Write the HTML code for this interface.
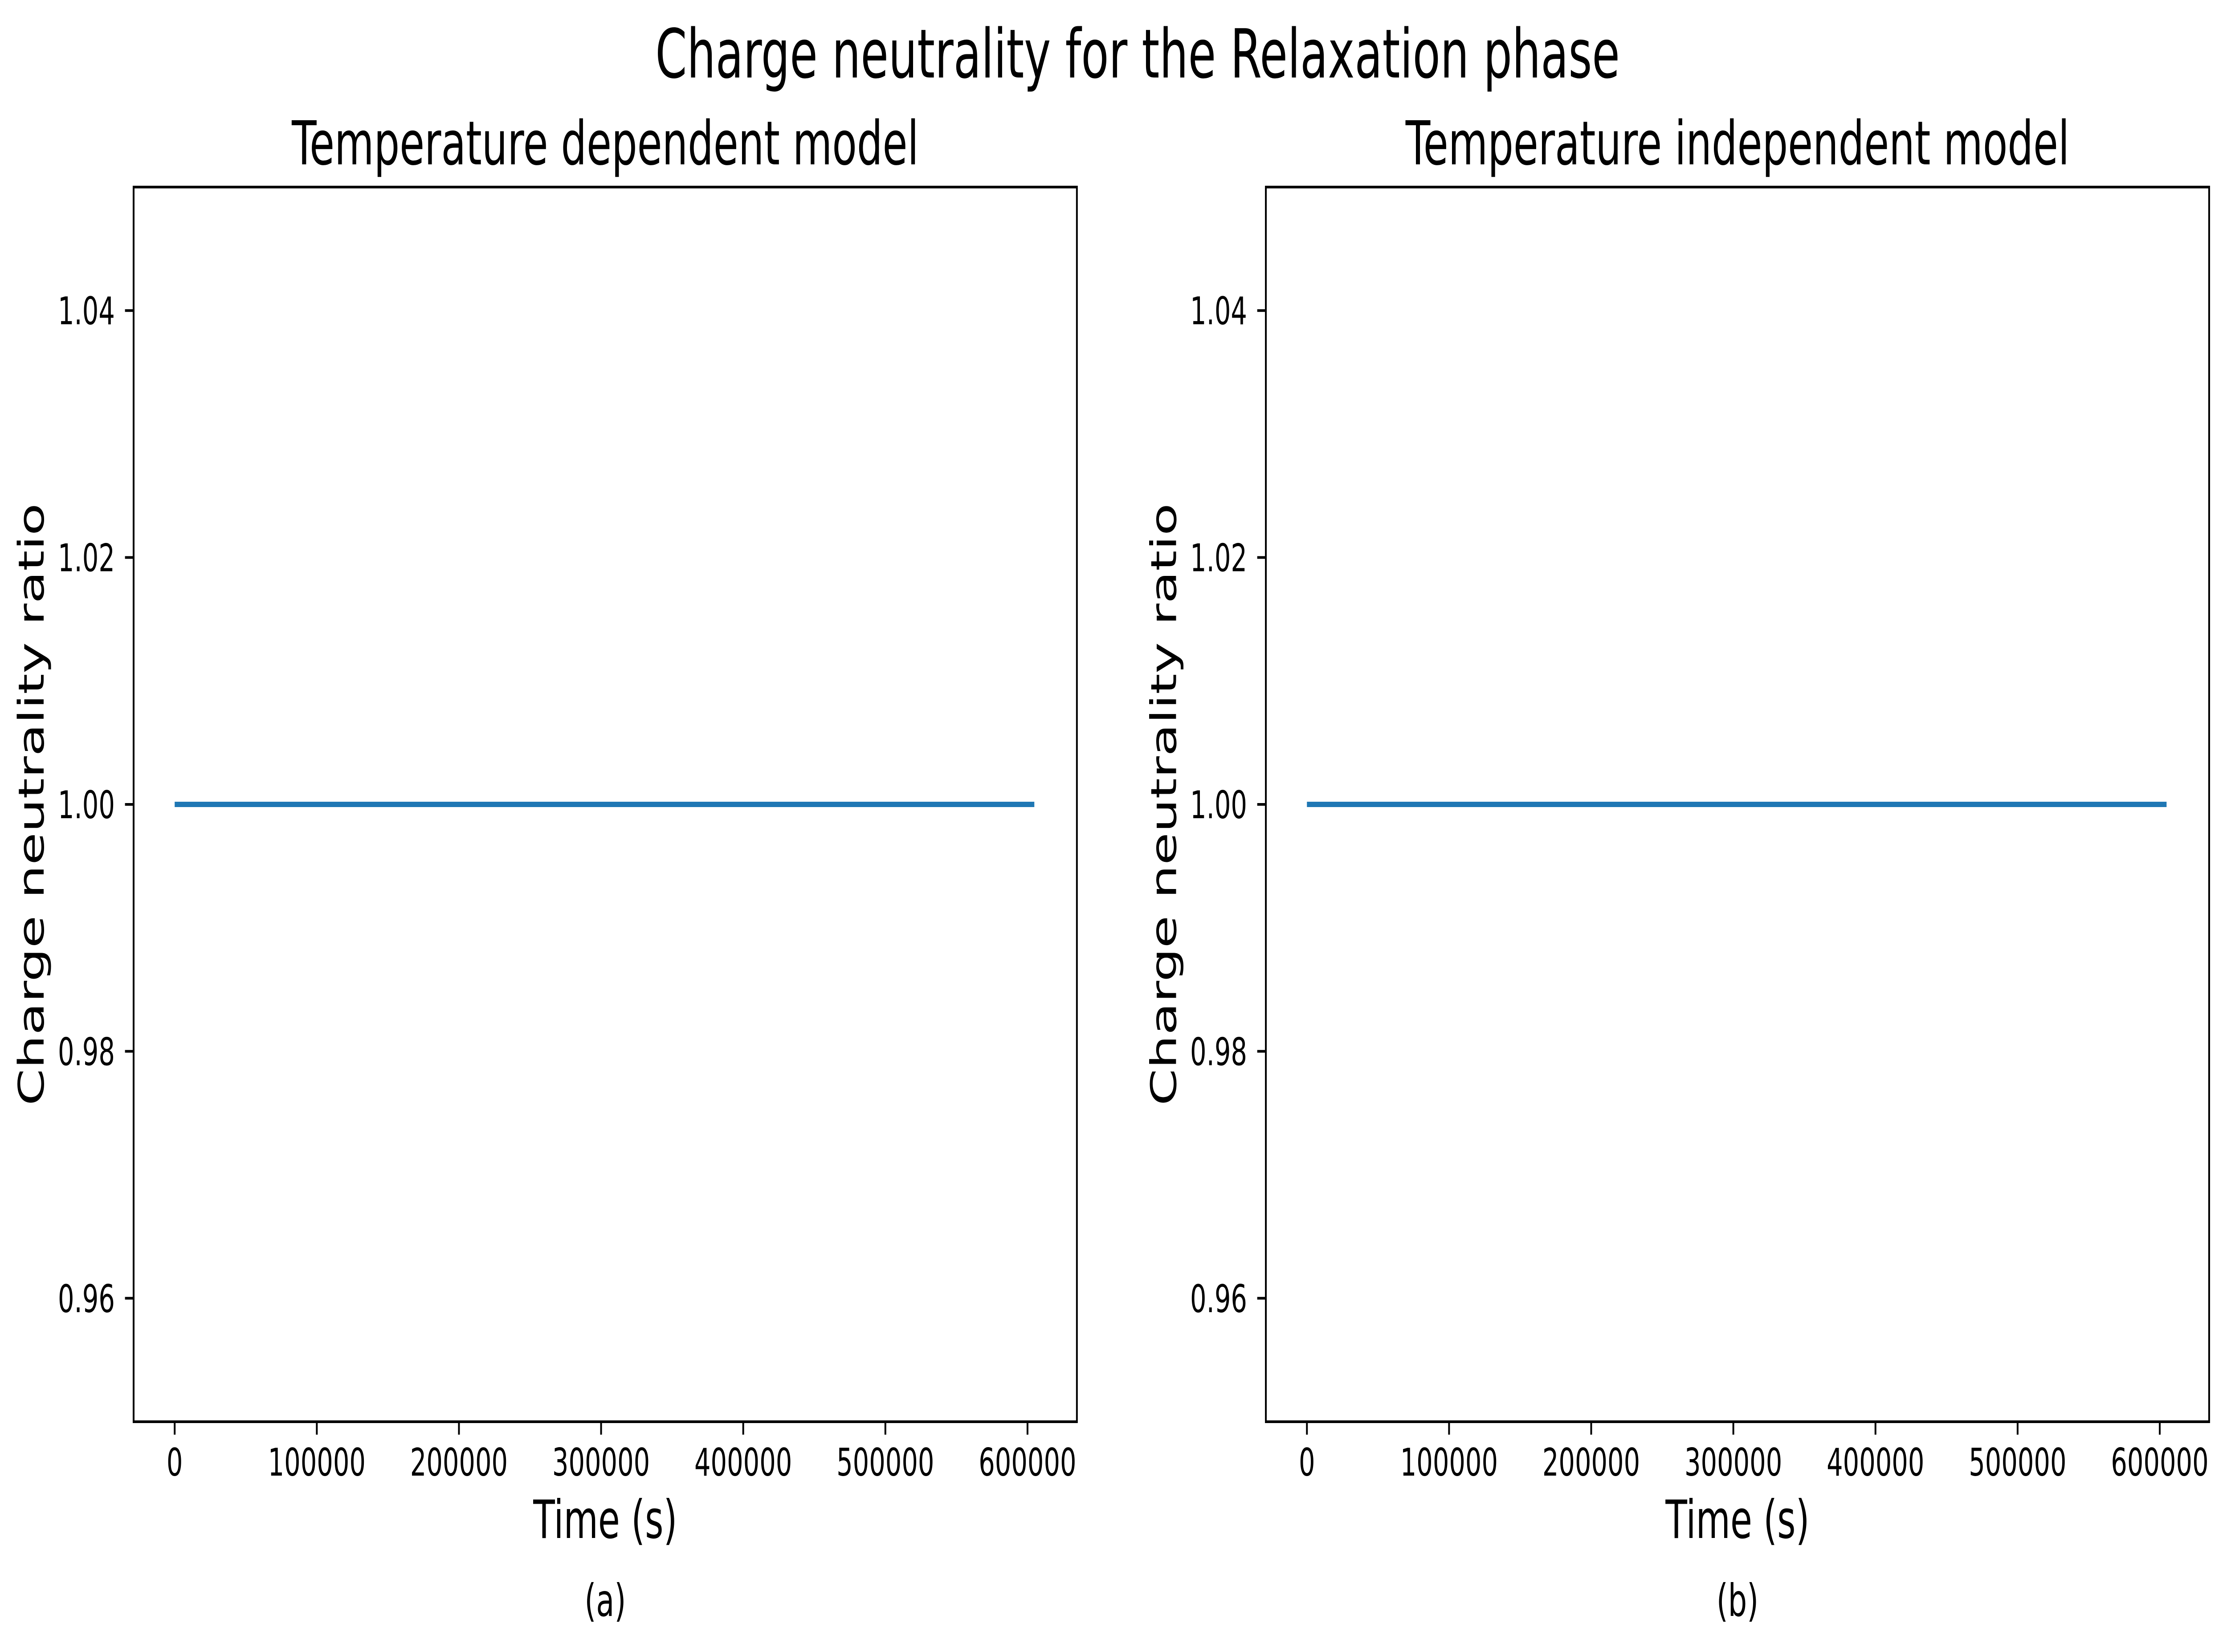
<!DOCTYPE html>
<html><head><meta charset="utf-8"><style>
html,body{margin:0;padding:0;background:#fff;width:100%;height:100%;overflow:hidden;}
svg{display:block;width:100vw;height:100vh;font-family:"DejaVu Sans","Liberation Sans",sans-serif;}
</style></head><body>
<svg id="fig" viewBox="0 0 7484 3709" preserveAspectRatio="none" xmlns="http://www.w3.org/2000/svg">
<rect width="7484" height="3709" fill="#fff"/>
<text x="3823" y="174" font-size="152" text-anchor="middle">Charge neutrality for the Relaxation phase</text>
</svg>
<script>
const xTicks = [0, 100000, 200000, 300000, 400000, 500000, 600000];
const xTickLabels = ["0", "100000", "200000", "300000", "400000", "500000", "600000"];
const yTicks = [0.96, 0.98, 1.00, 1.02, 1.04];
const yTickLabels = ["0.96", "0.98", "1.00", "1.02", "1.04"];
const timeDep = [0, 604800];
const ratioDep = [1.0, 1.0];
const timeIndep = [0, 604800];
const ratioIndep = [1.0, 1.0];

const NS = "http://www.w3.org/2000/svg";
const svg = document.getElementById("fig");
function mk(tag, attrs, parent) {
  const e = document.createElementNS(NS, tag);
  for (const k in attrs) e.setAttribute(k, attrs[k]);
  (parent || svg).appendChild(e);
  return e;
}
const panels = [
  {left: 449, title: "Temperature dependent model", tag: "(a)", xs: timeDep, ys: ratioDep, key: "dependent"},
  {left: 4254, title: "Temperature independent model", tag: "(b)", xs: timeIndep, ys: ratioIndep, key: "independent"}
];
const W = 3170, TOP = 420, BOT = 3192;
const X0 = 0, Xoff = 138, XPX = 2866 / 600000;
const Y0 = 0.95, Y1 = 1.05;

panels.forEach(p => {
  const g = mk("g", {});
  
  
  const sx = v => p.left + Xoff + (v - X0) * XPX;
  const sy = v => BOT - (v - Y0) / (Y1 - Y0) * (BOT - TOP);
  const cx = p.left + W / 2;

  const t = mk("text", {x: cx, y: 369, "font-size": 136, "text-anchor": "middle"}, g);
  t.textContent = p.title;
  
  

  let d = "";
  p.xs.forEach((x, i) => { d += (i ? "L" : "M") + sx(x) + " " + sy(p.ys[i]); });
  const ln = mk("path", {d: d, stroke: "#1f77b4", "stroke-width": 12, fill: "none"}, g);
  
  

  const fr = mk("rect", {x: p.left, y: TOP, width: W, height: BOT - TOP, fill: "none", stroke: "#000", "stroke-width": 6}, g);
  
  

  xTicks.forEach((v, i) => {
    const x = sx(v);
    const tk = mk("line", {x1: x, x2: x, y1: BOT, y2: BOT + 29, stroke: "#000", "stroke-width": 6}, g);
    
    
    const lb = mk("text", {x: x, y: 3313, "font-size": 86, "text-anchor": "middle"}, g);
    lb.textContent = xTickLabels[i];
    
    
  });
  yTicks.forEach((v, i) => {
    const y = sy(v);
    const tk = mk("line", {x1: p.left - 29, x2: p.left, y1: y, y2: y, stroke: "#000", "stroke-width": 6}, g);
    
    
    const lb = mk("text", {x: p.left - 63, y: y + 31, "font-size": 86, "text-anchor": "end"}, g);
    lb.textContent = yTickLabels[i];
    
    
  });

  const xl = mk("text", {x: cx, y: 3453, "font-size": 119, "text-anchor": "middle"}, g);
  xl.textContent = "Time (s)";
  
  

  const yc = (TOP + BOT) / 2, yx = p.left - 302;
  const yl = mk("text", {x: yx, y: yc, "font-size": 119, "text-anchor": "middle", transform: "rotate(-90 " + yx + " " + yc + ")"}, g);
  yl.textContent = "Charge neutrality ratio";
  
  

  const cap = mk("text", {x: cx, y: 3628, "font-size": 100, "text-anchor": "middle"}, g);
  cap.textContent = p.tag;
  
  
});
</script>
</body></html>
